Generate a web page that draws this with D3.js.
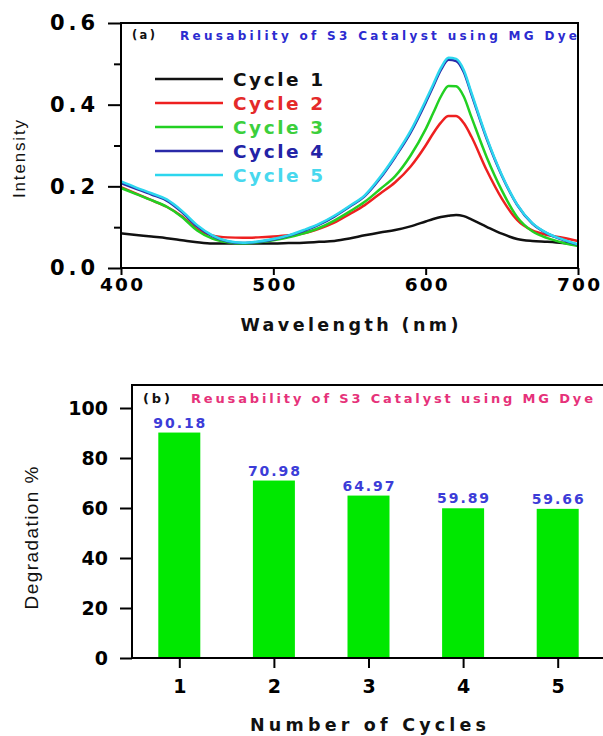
<!DOCTYPE html>
<html>
<head>
<meta charset="utf-8">
<script src="https://cdn.jsdelivr.net/npm/d3@7"></script>
<style>
body { margin: 0; background: #fff; }
svg { display: block; }
</style>
</head>
<body>
<svg id="chart" width="603" height="736"></svg>
<script>
// ---- panel (a) data ----
var wavelengths = [400, 410, 420, 430, 440, 450, 460, 470, 480, 490, 500, 510, 520, 530, 540, 550, 560, 570, 580, 590, 600, 605, 610, 615, 620, 625, 630, 640, 650, 660, 670, 680, 690, 700]
var cycle1 = [0.085, 0.081, 0.077, 0.073, 0.068, 0.063, 0.060, 0.060, 0.060, 0.060, 0.060, 0.061, 0.062, 0.064, 0.066, 0.072, 0.080, 0.087, 0.093, 0.102, 0.114, 0.120, 0.125, 0.128, 0.130, 0.127, 0.119, 0.101, 0.084, 0.071, 0.066, 0.064, 0.061, 0.056]
var cycle2 = [0.198, 0.182, 0.166, 0.150, 0.127, 0.095, 0.080, 0.075, 0.074, 0.075, 0.077, 0.080, 0.085, 0.096, 0.111, 0.132, 0.154, 0.182, 0.210, 0.248, 0.300, 0.330, 0.356, 0.372, 0.372, 0.355, 0.322, 0.240, 0.170, 0.118, 0.092, 0.081, 0.074, 0.066]
var cycle3 = [0.196, 0.181, 0.166, 0.150, 0.125, 0.092, 0.072, 0.063, 0.060, 0.063, 0.068, 0.075, 0.085, 0.098, 0.116, 0.138, 0.162, 0.193, 0.225, 0.275, 0.340, 0.380, 0.420, 0.446, 0.445, 0.420, 0.370, 0.272, 0.190, 0.125, 0.090, 0.073, 0.062, 0.054]
var cycle4 = [0.208, 0.194, 0.180, 0.165, 0.137, 0.102, 0.078, 0.065, 0.061, 0.064, 0.070, 0.079, 0.091, 0.106, 0.126, 0.150, 0.176, 0.219, 0.272, 0.331, 0.405, 0.445, 0.485, 0.510, 0.507, 0.480, 0.426, 0.317, 0.226, 0.155, 0.109, 0.084, 0.069, 0.057]
var cycle5 = [0.212, 0.197, 0.183, 0.168, 0.140, 0.105, 0.080, 0.066, 0.062, 0.065, 0.071, 0.080, 0.093, 0.108, 0.128, 0.152, 0.178, 0.222, 0.275, 0.335, 0.410, 0.450, 0.490, 0.515, 0.512, 0.485, 0.430, 0.320, 0.228, 0.156, 0.110, 0.085, 0.070, 0.058]
var cycleNames = ["Cycle 1", "Cycle 2", "Cycle 3", "Cycle 4", "Cycle 5"]
var lineColors = ["#111111", "#ee2020", "#22d022", "#2a2aa8", "#2cd6ee"]
var legendTextColors = ["#111111", "#e42a2a", "#3ccf3c", "#2323a6", "#48d8ee"]
var intensityTicks = [0, 0.2, 0.4, 0.6]
var intensityMinorTicks = [0.1, 0.3, 0.5]
var wavelengthTicks = [400, 500, 600, 700]

// ---- panel (b) data ----
var cycleNumbers = [1, 2, 3, 4, 5]
var degradation = [90.18, 70.98, 64.97, 59.89, 59.66]
var degradationLabels = ["90.18", "70.98", "64.97", "59.89", "59.66"]
var degradationTicks = [0, 20, 40, 60, 80, 100]

var svg = d3.select("#chart")
var boldFont = "'DejaVu Sans', sans-serif"
var plainFont = "'Liberation Sans', Arial, sans-serif"

// stretch a text to a given width (the figure text is wide)
function fit(sel, w) {
    sel.attr("textLength", w).attr("lengthAdjust", "spacing")
}

function styleTicks(g, size, w) {
    g.select(".domain").remove()
    g.selectAll(".tick line").attr("stroke", "#000").attr("stroke-width", 2)
    g.selectAll(".tick text")
        .attr("fill", "#000")
        .style("font-family", boldFont)
        .style("font-weight", "bold")
        .style("font-size", size + "px")
        .each(function () { if (w) fit(d3.select(this), w) })
}

// ================= panel (a) =================
var a = {left: 121, right: 578, top: 23, bottom: 268}
var xA = d3.scaleLinear().domain([400, 700]).range([a.left, a.right])
var yA = d3.scaleLinear().domain([0, 0.6]).range([a.bottom, a.top])

var series = [cycle1, cycle2, cycle3, cycle4, cycle5]
var line = d3.line()
    .x(function (d) { return xA(d[0]) })
    .y(function (d) { return yA(d[1]) })
    .curve(d3.curveMonotoneX)

series.forEach(function (vals, i) {
    svg.append("path")
        .datum(wavelengths.map(function (w, j) { return [w, vals[j]] }))
        .attr("fill", "none")
        .attr("stroke", lineColors[i])
        .attr("stroke-width", 2.5)
        .attr("d", line)
})

svg.append("g")
    .attr("transform", "translate(" + a.left + ",0)")
    .call(d3.axisLeft(yA).tickValues(intensityTicks).tickSize(13).tickPadding(13).tickFormat(d3.format(".1f")))
    .call(styleTicks, 21, 45)
svg.append("g")
    .attr("transform", "translate(" + a.left + ",0)")
    .call(d3.axisLeft(yA).tickValues(intensityMinorTicks).tickSize(7).tickFormat(""))
    .call(styleTicks, 10)
svg.append("g")
    .attr("transform", "translate(0," + a.bottom + ")")
    .call(d3.axisBottom(xA).tickValues(wavelengthTicks).tickSize(7).tickPadding(3).tickFormat(d3.format("d")))
    .call(styleTicks, 18.5, 43)

svg.append("rect")
    .attr("x", a.left).attr("y", a.top)
    .attr("width", a.right - a.left).attr("height", a.bottom - a.top)
    .attr("fill", "none").attr("stroke", "#000").attr("stroke-width", 2)

svg.append("text").attr("x", 132).attr("y", 39).text("(a)")
    .style("font-family", boldFont).style("font-weight", "bold").style("font-size", "11.5px")
    .attr("fill", "#111").call(fit, 23)
svg.append("text").attr("x", 180).attr("y", 40).text("Reusability of S3 Catalyst using MG Dye")
    .style("font-family", boldFont).style("font-weight", "bold").style("font-size", "12px")
    .attr("fill", "#2b2bd0").call(fit, 397)

// legend
cycleNames.forEach(function (name, i) {
    var ly = 79 + i * 24
    svg.append("line")
        .attr("x1", 155).attr("x2", 223).attr("y1", ly).attr("y2", ly)
        .attr("stroke", lineColors[i]).attr("stroke-width", 2.5)
    svg.append("text").attr("x", 233).attr("y", ly + 7).text(name)
        .style("font-family", boldFont).style("font-weight", "bold").style("font-size", "18.5px")
        .attr("fill", legendTextColors[i]).call(fit, 90)
})

svg.append("text")
    .attr("transform", "translate(25,159) rotate(-90)")
    .attr("text-anchor", "middle").text("Intensity")
    .style("font-family", plainFont).style("font-size", "17px")
    .attr("fill", "#111").call(fit, 78)
svg.append("text")
    .attr("x", (a.left + a.right) / 2).attr("y", 331)
    .attr("text-anchor", "middle").text("Wavelength (nm)")
    .style("font-family", boldFont).style("font-weight", "bold").style("font-size", "17.5px")
    .attr("fill", "#111").call(fit, 218)

// ================= panel (b) =================
var b = {left: 132, right: 605, top: 385, bottom: 658}
var xB = d3.scaleLinear().domain([0.5, 5.5]).range([b.left, b.right])
var yB = d3.scaleLinear().domain([0, 109.2]).range([b.bottom, b.top])
var barW = 42

svg.selectAll(".bar")
    .data(degradation)
    .enter().append("rect")
    .attr("class", "bar")
    .attr("x", function (d, i) { return xB(cycleNumbers[i]) - barW / 2 })
    .attr("y", function (d) { return yB(d) })
    .attr("width", barW)
    .attr("height", function (d) { return b.bottom - yB(d) })
    .attr("fill", "#00e800")

svg.selectAll(".val")
    .data(degradation)
    .enter().append("text")
    .attr("class", "val")
    .attr("x", function (d, i) { return xB(cycleNumbers[i]) })
    .attr("y", function (d) { return yB(d) - 5 })
    .attr("text-anchor", "middle")
    .text(function (d, i) { return degradationLabels[i] })
    .style("font-family", boldFont).style("font-weight", "bold").style("font-size", "14px")
    .attr("fill", "#3c3cd8")
    .each(function () { fit(d3.select(this), 52) })

svg.append("g")
    .attr("transform", "translate(" + b.left + ",0)")
    .call(d3.axisLeft(yB).tickValues(degradationTicks).tickSize(12).tickPadding(12).tickFormat(d3.format("d")))
    .call(styleTicks, 19)
svg.append("g")
    .attr("transform", "translate(0," + b.bottom + ")")
    .call(d3.axisBottom(xB).tickValues(cycleNumbers).tickSize(10).tickPadding(12).tickFormat(d3.format("d")))
    .call(styleTicks, 19)

svg.append("rect")
    .attr("x", b.left).attr("y", b.top)
    .attr("width", b.right - b.left).attr("height", b.bottom - b.top)
    .attr("fill", "none").attr("stroke", "#000").attr("stroke-width", 2)

svg.append("text").attr("x", 143).attr("y", 403).text("(b)")
    .style("font-family", boldFont).style("font-weight", "bold").style("font-size", "13px")
    .attr("fill", "#111").call(fit, 27)
svg.append("text").attr("x", 191).attr("y", 403).text("Reusability of S3 Catalyst using MG Dye")
    .style("font-family", boldFont).style("font-weight", "bold").style("font-size", "13px")
    .attr("fill", "#e6327a").call(fit, 402)

svg.append("text")
    .attr("transform", "translate(38,538) rotate(-90)")
    .attr("text-anchor", "middle").text("Degradation %")
    .style("font-family", plainFont).style("font-size", "19px")
    .attr("fill", "#111").call(fit, 143)
svg.append("text")
    .attr("x", 368).attr("y", 731)
    .attr("text-anchor", "middle").text("Number of Cycles")
    .style("font-family", boldFont).style("font-weight", "bold").style("font-size", "17.5px")
    .attr("fill", "#111").call(fit, 236)
</script>
</body>
</html>
